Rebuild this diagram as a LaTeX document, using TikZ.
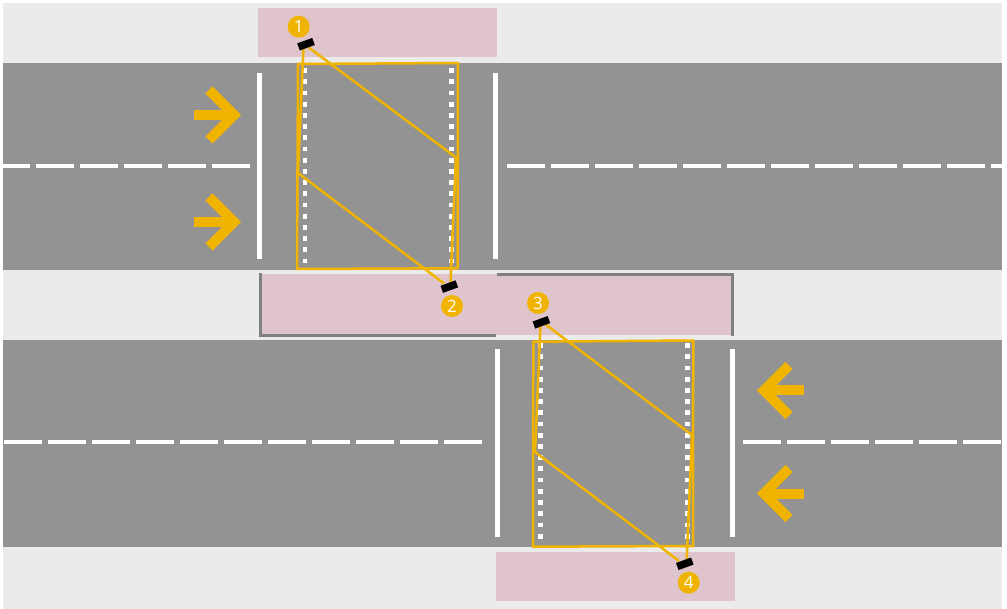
\documentclass[tikz,border=0pt]{standalone}
\usepackage{fontspec}
\newfontfamily\badgefont{Open Sans}
\definecolor{bg}{HTML}{EBEBEB}
\definecolor{roadgray}{HTML}{939393}
\definecolor{pinkzone}{HTML}{DFC5CB}
\definecolor{edgegray}{HTML}{808080}
\definecolor{amber}{HTML}{F0B400}
\begin{document}
\begin{tikzpicture}[x=1pt,y=-1pt,
  roadfill/.style={fill=roadgray},
  zone/.style={fill=pinkzone},
  zoneedge/.style={draw=edgegray,line width=3pt},
  laneline/.style={draw=white,line width=4pt,dash pattern=on 38pt off 6pt},
  stopbar/.style={draw=white,line width=4.5pt},
  zebra/.style={draw=white,line width=4.8pt,dash pattern=on 4.8pt off 6.4pt},
  fov/.style={draw=amber,line width=2.5pt,line join=round},
  camnode/.style={fill=black,minimum width=16pt,minimum height=7.5pt,inner sep=0pt,rotate=20},
  badge/.style={circle,fill=amber,minimum size=22pt,inner sep=0pt,text=white,font=\badgefont\fontsize{17}{17}\selectfont},
  dirarrow/.style={draw=amber,line width=10pt,line join=miter},
]
\useasboundingbox (0,0) rectangle (1007,609);
\fill[white] (0,0) rectangle (1007,609);
\fill[bg] (3,3) rectangle (1002,609);
% roads
\fill[roadfill] (3,63) rectangle (1002,270);
\fill[roadfill] (3,340) rectangle (1002,546.7);
% pink zones
\fill[zone] (258,8) rectangle (497,56.7);
\fill[zone] (259,274) rectangle (732,335);
\fill[zone] (496,552.3) rectangle (735,600.7);
\draw[zoneedge] (260,273.5) -- (260,335.5) -- (495.7,335.5);
\draw[zoneedge] (496.7,274.7) -- (732.7,274.7) -- (732.7,335.7);
% lane lines
\draw[laneline,dash phase=11pt] (3,166) -- (251,166);
\draw[laneline] (507,166) -- (1002,166);
\draw[laneline] (4,442) -- (484,442);
\draw[laneline] (743,442) -- (1002,442);
% stop bars
\draw[stopbar] (259.5,73) -- (259.5,259);
\draw[stopbar] (495.5,73) -- (495.5,259);
\draw[stopbar] (497.5,349) -- (497.5,537);
\draw[stopbar] (732.5,349) -- (732.5,537);
% zebra edges
\draw[zebra] (305,68.3) -- (305,263);
\draw[zebra] (451.3,68.3) -- (451.3,263);
\draw[zebra] (540.7,343.3) -- (540.7,539);
\draw[zebra] (687.3,343.3) -- (687.3,539);
% direction arrows
\draw[dirarrow] (194,115) -- (234,115);
\draw[dirarrow] (209,90) -- (234,115) -- (209,140);
\draw[dirarrow] (194,222) -- (234,222);
\draw[dirarrow] (209,197) -- (234,222) -- (209,247);
\draw[dirarrow] (804,390.5) -- (764,390.5);
\draw[dirarrow] (789,365.5) -- (764,390.5) -- (789,415.5);
\draw[dirarrow] (804,493.5) -- (764,493.5);
\draw[dirarrow] (789,468.5) -- (764,493.5) -- (789,518.5);
% detection areas
\draw[fov] (298,64) -- (458,63) -- (457.5,268.3) -- (297,269) -- cycle;
\draw[fov] (533.3,341.7) -- (693.3,340.5) -- (693,546) -- (533,546.7) -- cycle;
% camera field-of-view corners
\coordinate (c1a) at (303.5,47);
\coordinate (c1b) at (308,47);
\coordinate (c2a) at (444,283.5);
\coordinate (c2b) at (450.5,282.5);
\coordinate (c3a) at (540.5,325);
\coordinate (c3b) at (545,324);
\coordinate (c4a) at (679,561);
\coordinate (c4b) at (686.7,560);
\coordinate (tlm) at (298,173);
\coordinate (trm) at (456,157.5);
\coordinate (blm) at (535,452);
\coordinate (brm) at (692,435);
\draw[fov] (c1a) -- (tlm) -- (c2a);
\draw[fov] (c1b) -- (trm) -- (c2b);
\draw[fov] (c3a) -- (blm) -- (c4a);
\draw[fov] (c3b) -- (brm) -- (c4b);
% cameras
\node[camnode] (cam1) at (306,44.2) {};
\node[camnode] (cam2) at (449.3,286.6) {};
\node[camnode] (cam3) at (541.4,322.3) {};
\node[camnode] (cam4) at (684.8,563.8) {};
% badges
\node[badge] (b1) at (298.7,26.7) {1};
\node[badge] (b2) at (452,306) {2};
\node[badge] (b3) at (538,303) {3};
\node[badge] (b4) at (688.7,582.7) {4};
\end{tikzpicture}
\end{document}
